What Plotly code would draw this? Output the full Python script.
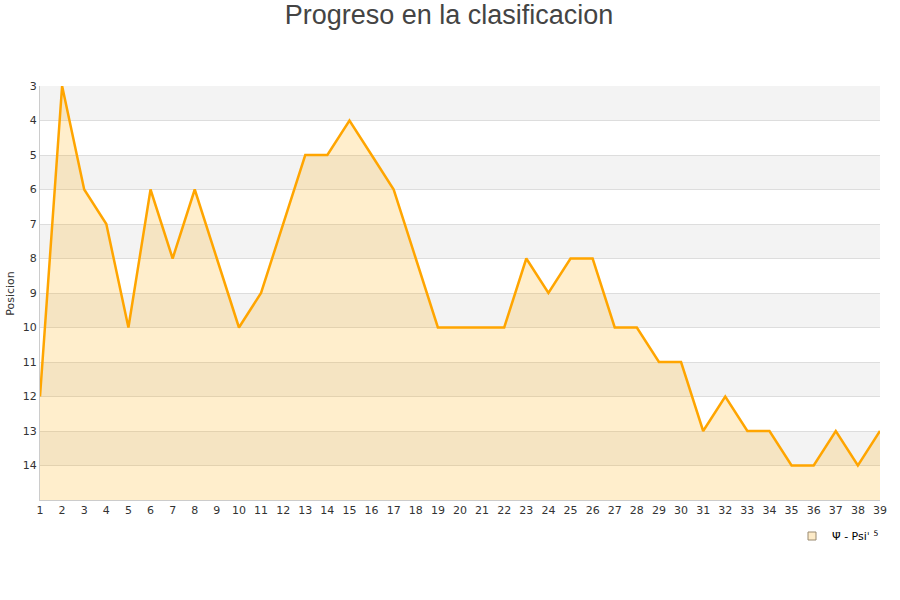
import plotly.graph_objects as go

jornadas = list(range(1, 40))
posicion = [12, 3, 6, 7, 10, 6, 8, 6, 8, 10, 9, 7, 5, 5, 4, 5, 6, 8, 10, 10,
            10, 10, 8, 9, 8, 8, 10, 10, 11, 11, 13, 12, 13, 13, 14, 14, 13, 14, 13]
y_ticks = list(range(3, 15))
serie = "\u03a8\u0307 - Psi\u02c8 <sup>5</sup>"

fig = go.Figure()

# background bands
for lo in range(3, 15, 2):
    fig.add_shape(type="rect", xref="x domain", yref="y", x0=0, x1=1, y0=lo, y1=lo + 1,
                  fillcolor="#f3f3f3", line_width=0, layer="below")

fig.add_trace(go.Scatter(x=jornadas, y=[15] * len(jornadas), mode="lines",
                         line=dict(width=0), showlegend=False, hoverinfo="skip"))
fig.add_trace(go.Scatter(x=jornadas, y=posicion, mode="lines", name=serie,
                         fill="tonexty", fillcolor="rgba(255,170,0,0.2)",
                         line=dict(color="#ffa500", width=2.5), showlegend=False))
# legend entry
fig.add_trace(go.Scatter(x=[None], y=[None], mode="markers", name=serie,
                         marker=dict(symbol="square", size=8, color="#fdebc8",
                                     line=dict(color="#9a8a70", width=1))))

W, H = 900, 600
fig.update_layout(
    width=W, height=H,
    paper_bgcolor="white", plot_bgcolor="white",
    margin=dict(l=40, r=20, t=86, b=100, autoexpand=False),
    title=dict(text="Progreso en la clasificacion", x=449 / W, xanchor="center",
               y=1 - 15 / H, yanchor="middle", yref="container",
               font=dict(family="Liberation Sans, Arial", size=27, color="#444")),
    font=dict(family="DejaVu Sans", size=11, color="#444"),
    showlegend=True,
    legend=dict(x=792 / W, xanchor="left", xref="container",
                y=1 - 536 / H, yanchor="middle",
                yref="container", orientation="h", itemwidth=30,
                font=dict(size=11, color="#000"), bgcolor="rgba(0,0,0,0)"),
    annotations=[dict(text="Posicion", xref="paper", yref="paper", x=-0.036, y=0.5,
                      xanchor="center", yanchor="middle", textangle=-90, showarrow=False,
                      font=dict(size=11, color="#333"))],
)
fig.update_xaxes(range=[1, 39], tickmode="array", tickvals=jornadas, showgrid=False,
                 showline=True, linecolor="#ccc", ticks="", zeroline=False, automargin=False,
                 tickfont=dict(size=11, color="#333"))
fig.update_yaxes(range=[15, 3], tickmode="array", tickvals=y_ticks, showgrid=True,
                 gridcolor="#dddddd", showline=True, linecolor="#ccc", ticks="",
                 zeroline=False, automargin=False,
                 tickfont=dict(size=11, color="#333"))

fig.write_html("out.html", config={"displayModeBar": False},
               post_script="document.body.style.margin='0';")
